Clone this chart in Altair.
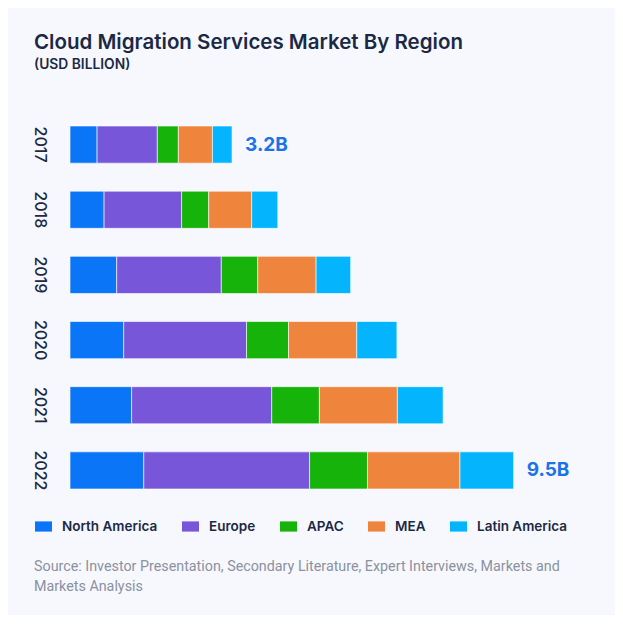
import altair as alt
import pandas as pd

# ---- data ----
years = ["2017", "2018", "2019", "2020", "2021", "2022"]
regions = ["North America", "Europe", "APAC", "MEA", "Latin America"]
north_america = [0.58, 0.73, 1.00, 1.15, 1.32, 1.58]
europe = [1.29, 1.66, 2.24, 2.63, 3.00, 3.55]
apac = [0.45, 0.58, 0.78, 0.90, 1.02, 1.24]
mea = [0.73, 0.92, 1.25, 1.46, 1.67, 1.98]
latin_america = [0.42, 0.56, 0.74, 0.86, 0.98, 1.15]
label_years = ["2017", "2022"]
label_texts = ["3.2B", "9.5B"]

colors = ["#0a75f6", "#7856d9", "#16b30a", "#ef843c", "#04b5fd"]
navy = "#1b2945"

series = [north_america, europe, apac, mea, latin_america]
rows = []
for ri, (reg, vals) in enumerate(zip(regions, series)):
    for y, v in zip(years, vals):
        rows.append({"year": y, "region": reg, "value": v, "order": ri})
df = pd.DataFrame(rows)

totals = {y: sum(s[i] for s in series) for i, y in enumerate(years)}
lab_df = pd.DataFrame({"year": label_years, "text": label_texts,
                       "total": [totals[y] for y in label_years]})
year_df = pd.DataFrame({"year": years})

y_enc = alt.Y("year:N", sort=years, axis=None,
              scale=alt.Scale(paddingInner=0.43, paddingOuter=0.215))
x_scale = alt.Scale(domain=[0, 10], nice=False)

bars = alt.Chart(df).mark_bar(stroke="white", strokeWidth=0.6).encode(
    x=alt.X("value:Q", stack="zero", scale=x_scale, axis=None),
    y=y_enc,
    color=alt.Color("region:N", sort=regions,
                    scale=alt.Scale(domain=regions, range=colors),
                    legend=alt.Legend(
                        title=None, orient="none", direction="horizontal",
                        legendX=-35, legendY=406,
                        symbolType="M-1,-0.6H1V0.6H-1Z", symbolSize=289,
                        symbolStrokeWidth=0, symbolOpacity=1,
                        labelFont="Inter", labelFontSize=13.5, labelFontWeight=600,
                        labelColor=navy, labelOffset=10, columnPadding=24,
                        padding=0)),
    order=alt.Order("order:Q"),
)

totals_text = alt.Chart(lab_df).mark_text(
    align="left", baseline="middle", dx=13, font="Inter", fontSize=19,
    fontWeight=700, color="#1a73e8"
).encode(
    x=alt.X("total:Q", scale=x_scale, axis=None),
    y=y_enc,
    text="text:N",
)

year_text = alt.Chart(year_df).mark_text(
    angle=90, align="center", baseline="middle", font="Inter", fontSize=16,
    fontWeight=500, color=navy
).encode(
    x=alt.value(-30),
    y=y_enc,
    text="year:N",
)

src1 = alt.Chart(pd.DataFrame({"t": ["Source: Investor Presentation, Secondary Literature, Expert Interviews, Markets and"]})).mark_text(
    align="left", baseline="alphabetic", font="Roboto", fontSize=14.3, color="#8a91a1"
).encode(x=alt.value(-36), y=alt.value(459), text="t:N")
src2 = alt.Chart(pd.DataFrame({"t": ["Markets Analysis"]})).mark_text(
    align="left", baseline="alphabetic", font="Roboto", fontSize=14.3, color="#8a91a1"
).encode(x=alt.value(-36), y=alt.value(479), text="t:N")

chart = alt.layer(bars, totals_text, year_text, src1, src2).properties(
    width=467, height=391,
    autosize=alt.AutoSizeParams(type="none"),
    padding={"left": 62, "top": 104, "right": 78, "bottom": 112},
    title=alt.TitleParams(
        text="Cloud Migration Services Market By Region",
        subtitle="(USD BILLION)",
        anchor="start", frame="group", dx=-36, offset=40,
        font="Inter", fontSize=20.5, fontWeight=600, color=navy,
        subtitleFont="Inter", subtitleFontSize=13.8, subtitleFontWeight=600,
        subtitleColor=navy, subtitlePadding=5,
    ),
).configure(background="#f7f8fd").configure_view(stroke=None)

chart.save("out.html", embed_options={"renderer": "svg", "actions": False})
